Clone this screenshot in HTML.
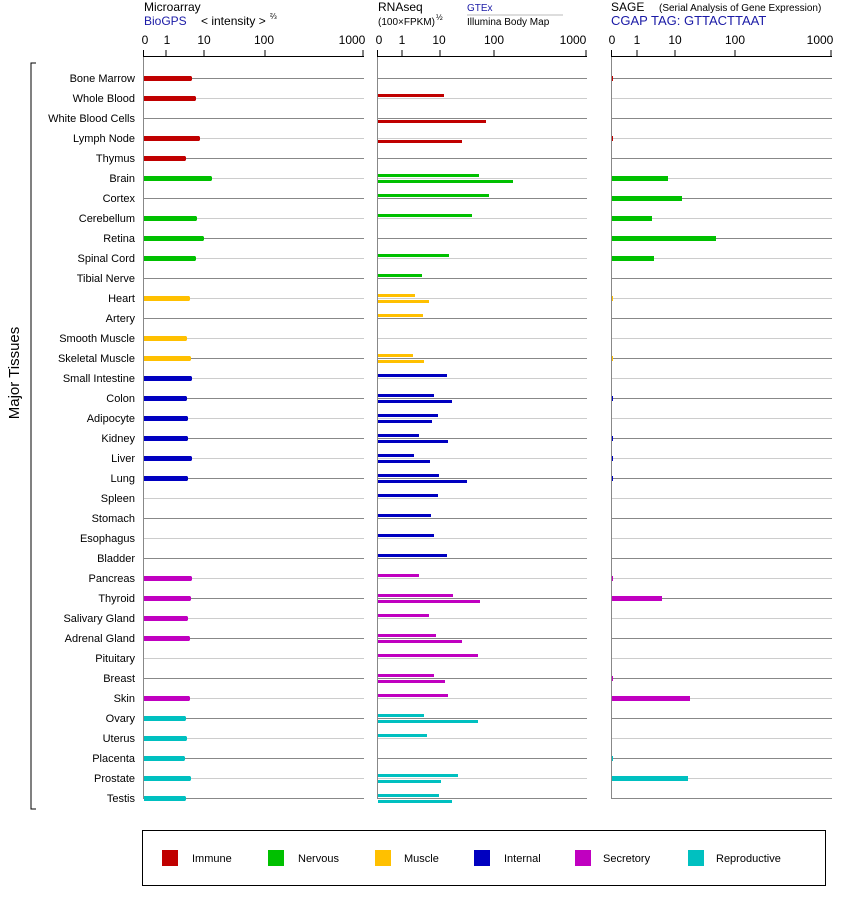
<!DOCTYPE html>
<html><head><meta charset="utf-8"><style>
body{margin:0;background:#fff;}
svg{display:block;font-family:"Liberation Sans",Arial,sans-serif;}
</style></head><body>
<svg id="s" width="842" height="900" viewBox="0 0 842 900" xmlns="http://www.w3.org/2000/svg">
<g id="lines"></g>
<g font-size="12" fill="#000">
<text x="144" y="11">Microarray</text>
<text x="144" y="25" fill="#1a1aa6">BioGPS</text>
<text x="201" y="25">&lt; intensity &gt;</text>
<text x="270" y="19" font-size="8">⅔</text>
<text x="378" y="11">RNAseq</text>
<text x="378" y="25" font-size="10">(100×FPKM)</text>
<text x="436" y="20" font-size="8">½</text>
<text x="467" y="11" font-size="10" fill="#1a1aa6">GTEx</text>
<line x1="467" y1="15" x2="563" y2="15" stroke="#bbb"/>
<text x="467" y="25" font-size="10">Illumina Body Map</text>
<text x="611" y="11">SAGE</text>
<text x="659" y="11" font-size="10">(Serial Analysis of Gene Expression)</text>
<text x="611" y="25" fill="#1a1aa6" font-size="13">CGAP TAG: GTTACTTAAT</text>
</g>
<g font-size="12" text-anchor="middle">
<text x="145" y="44">0</text><text x="167" y="44">1</text><text x="204" y="44">10</text><text x="264" y="44">100</text><text x="352" y="44">1000</text>
<text x="379" y="44">0</text><text x="402" y="44">1</text><text x="439" y="44">10</text><text x="494" y="44">100</text><text x="573" y="44">1000</text>
<text x="612" y="44">0</text><text x="637" y="44">1</text><text x="675" y="44">10</text><text x="735" y="44">100</text><text x="820" y="44">1000</text>
</g>
<g font-size="11" text-anchor="end">
<text x="135" y="82">Bone Marrow</text>
<text x="135" y="102">Whole Blood</text>
<text x="135" y="122">White Blood Cells</text>
<text x="135" y="142">Lymph Node</text>
<text x="135" y="162">Thymus</text>
<text x="135" y="182">Brain</text>
<text x="135" y="202">Cortex</text>
<text x="135" y="222">Cerebellum</text>
<text x="135" y="242">Retina</text>
<text x="135" y="262">Spinal Cord</text>
<text x="135" y="282">Tibial Nerve</text>
<text x="135" y="302">Heart</text>
<text x="135" y="322">Artery</text>
<text x="135" y="342">Smooth Muscle</text>
<text x="135" y="362">Skeletal Muscle</text>
<text x="135" y="382">Small Intestine</text>
<text x="135" y="402">Colon</text>
<text x="135" y="422">Adipocyte</text>
<text x="135" y="442">Kidney</text>
<text x="135" y="462">Liver</text>
<text x="135" y="482">Lung</text>
<text x="135" y="502">Spleen</text>
<text x="135" y="522">Stomach</text>
<text x="135" y="542">Esophagus</text>
<text x="135" y="562">Bladder</text>
<text x="135" y="582">Pancreas</text>
<text x="135" y="602">Thyroid</text>
<text x="135" y="622">Salivary Gland</text>
<text x="135" y="642">Adrenal Gland</text>
<text x="135" y="662">Pituitary</text>
<text x="135" y="682">Breast</text>
<text x="135" y="702">Skin</text>
<text x="135" y="722">Ovary</text>
<text x="135" y="742">Uterus</text>
<text x="135" y="762">Placenta</text>
<text x="135" y="782">Prostate</text>
<text x="135" y="802">Testis</text>
</g>
<text transform="translate(19,373) rotate(-90)" font-size="15" text-anchor="middle">Major Tissues</text>
<path d="M36 63 H31 V809 H36" fill="none" stroke="#000"/>
<rect x="142.5" y="830.5" width="683" height="55" fill="none" stroke="#000"/>
<g font-size="11">
<rect x="162" y="850" width="16" height="16" fill="#c00000"/><text x="192" y="862">Immune</text>
<rect x="268" y="850" width="16" height="16" fill="#00c000"/><text x="298" y="862">Nervous</text>
<rect x="375" y="850" width="16" height="16" fill="#ffc000"/><text x="404" y="862">Muscle</text>
<rect x="474" y="850" width="16" height="16" fill="#0000c0"/><text x="504" y="862">Internal</text>
<rect x="575" y="850" width="16" height="16" fill="#c000c0"/><text x="603" y="862">Secretory</text>
<rect x="688" y="850" width="16" height="16" fill="#00c0c0"/><text x="716" y="862">Reproductive</text>
</g>
<g id="bars"></g>
</svg>
<script>
var C={I:"#c00000",N:"#00c000",M:"#ffc000",T:"#0000c0",S:"#c000c0",R:"#00c0c0"};
var cat="IIIIINNNNNNMMMMTTTTTTTTTTSSSSSSSRRRRR";
var ma=[191,195,0,199,185,211,0,196,203,195,0,189,0,186,190,191,186,187,187,191,187,0,0,0,0,191,190,187,189,0,0,189,185,186,184,190,185];
var rg=[[0,0],[444,0],[0,486],[0,462],[0,0],[479,513],[489,0],[472,0],[0,0],[449,0],[422,0],[415,429],[423,0],[0,0],[413,424],[447,0],[434,452],[438,432],[419,448],[414,430],[439,467],[438,0],[431,0],[434,0],[447,0],[419,0],[453,480],[429,0],[436,462],[478,0],[434,445],[448,0],[424,478],[427,0],[0,0],[458,441],[439,452]];
var sg=[613,0,0,613,0,668,682,652,716,654,0,613,0,0,613,0,613,0,613,613,613,0,0,0,0,613,662,0,0,0,613,690,0,0,613,688,0];
var L="",B="";
function ln(x1,y1,x2,y2,c,w){return '<line x1="'+x1+'" y1="'+y1+'" x2="'+x2+'" y2="'+y2+'" stroke="'+c+'" stroke-width="'+(w||1)+'"/>';}
function rc(x,y,w,h,c){return '<rect x="'+x+'" y="'+y+'" width="'+w+'" height="'+h+'" fill="'+c+'"/>';}
var panels=[[143.5,364],[377.5,587],[611.5,832]];
for(var i=0;i<37;i++){var y=78.5+20*i;var c=i%2?"#cccccc":"#888888";
 panels.forEach(function(p){L+=ln(p[0],y,p[1],y,c);});
 var col=C[cat[i]];var r=78+20*i;
 if(ma[i])B+=rc(144,r-2,ma[i]-144,5,col)+rc(ma[i]-1,r-1.5,2,4,col);
 if(rg[i][0])B+=rc(378,r-4,rg[i][0]-378,3,col);
 if(rg[i][1])B+=rc(378,r+2,rg[i][1]-378,3,col);
 if(sg[i])B+=rc(612,r-2,sg[i]-612,5,col);
}
panels.forEach(function(p){L+=ln(p[0],56,p[0],799,"#888");L+=ln(p[0],56.5,p[1],56.5,"#000");});
[[143.5,166,204,265,363],[377.5,402,440,494,586],[611.5,637,675,735,831]].forEach(function(t){t.forEach(function(x){L+=ln(x,50,x,57,"#000");});});
document.getElementById("lines").innerHTML=L;document.getElementById("bars").innerHTML=B;
</script>
</body></html>
